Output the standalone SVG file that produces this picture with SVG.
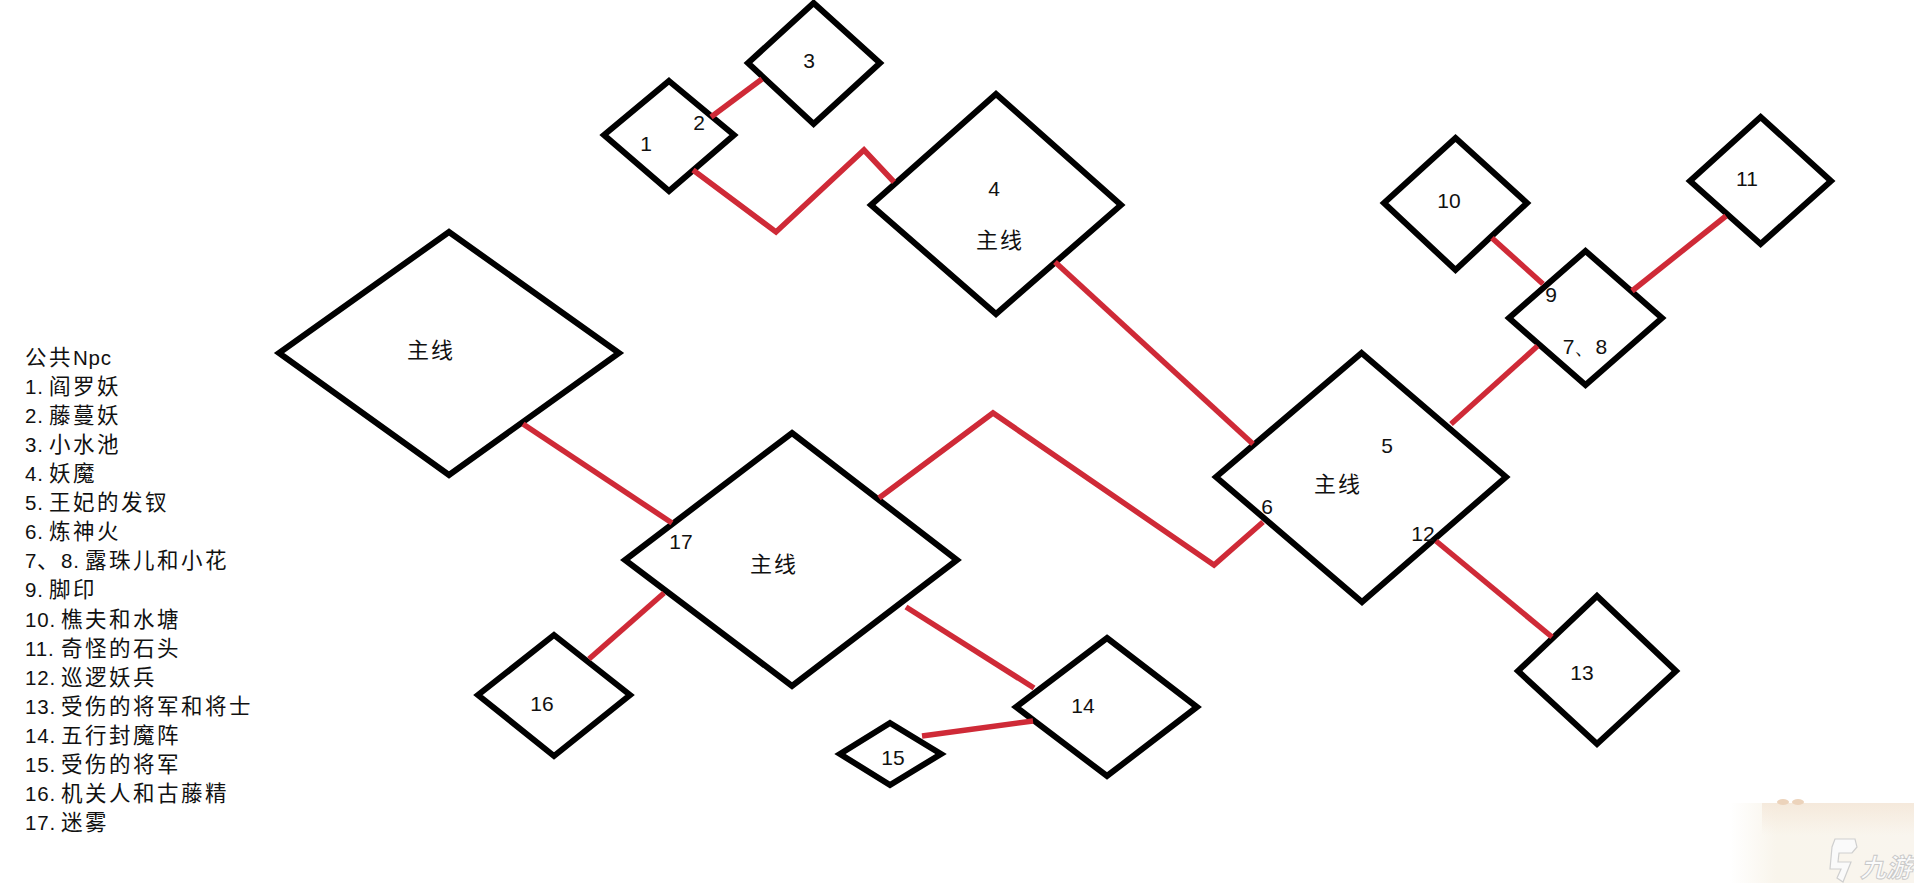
<svg xmlns="http://www.w3.org/2000/svg" width="1914" height="883" viewBox="0 0 1914 883">
<style>
.d{fill:none;stroke:#000;stroke-width:6;stroke-linejoin:miter;stroke-miterlimit:10}
.c{fill:none;stroke:#cf2a37;stroke-width:5.5;stroke-linejoin:miter;stroke-miterlimit:10}
text{fill:#111}
.n{font-family:"Liberation Sans",Arial,sans-serif;font-size:21px;text-anchor:middle}
.z{font-family:"Noto Sans CJK SC",sans-serif;font-size:22px;letter-spacing:2px;text-anchor:middle}
.l{font-family:"Liberation Sans",Arial,sans-serif;font-size:20.5px;letter-spacing:.8px}
.h{font-family:"Noto Sans CJK SC",sans-serif;font-size:21.5px;letter-spacing:2.5px}
</style>
<defs>
<linearGradient id="wm" x1="0" y1="0" x2="1" y2="0"><stop offset="0" stop-color="#fff"/><stop offset=".25" stop-color="#f9f5ec"/><stop offset="1" stop-color="#f9f5ee"/></linearGradient>
<linearGradient id="wt" x1="0" y1="0" x2="0" y2="1"><stop offset="0" stop-color="#f3e4d4" stop-opacity=".7"/><stop offset="1" stop-color="#f3e4d4" stop-opacity="0"/></linearGradient>
</defs>
<rect width="1914" height="883" fill="#fff"/>
<g id="watermark">
<rect x="1730" y="803" width="184" height="80" fill="url(#wm)"/>
<rect x="1762" y="803" width="152" height="32" fill="url(#wt)"/>
<ellipse cx="1783" cy="802" rx="6" ry="3" fill="#ecd3bb"/>
<ellipse cx="1798" cy="802" rx="6" ry="3" fill="#ecd3bb"/>
<path d="M1835 839h20l2 8-5 6h-13l-1 9h13l-8 20-6-4 4-9h-11l2-22z" fill="#fafafa" stroke="#cfcfcf" stroke-width="1.2"/>
<text x="1860" y="877" font-family="Noto Sans CJK SC,sans-serif" font-size="26" font-style="italic" font-weight="700" style="fill:#fbfbfb;stroke:#c8c8c8;stroke-width:.9">九游</text>
</g>
<g id="legend">
<text class="h" x="25" y="365">公共</text><text class="l" x="73" y="365">Npc</text>
<text class="l" x="25" y="394">1.</text><text class="h" x="49" y="394">阎罗妖</text>
<text class="l" x="25" y="423">2.</text><text class="h" x="49" y="423">藤蔓妖</text>
<text class="l" x="25" y="452">3.</text><text class="h" x="49" y="452">小水池</text>
<text class="l" x="25" y="481">4.</text><text class="h" x="49" y="481">妖魔</text>
<text class="l" x="25" y="510">5.</text><text class="h" x="49" y="510">王妃的发钗</text>
<text class="l" x="25" y="539">6.</text><text class="h" x="49" y="539">炼神火</text>
<text class="l" x="25" y="568">7</text><text class="h" x="37" y="568">、</text><text class="l" x="61" y="568">8.</text><text class="h" x="85" y="568">露珠儿和小花</text>
<text class="l" x="25" y="597">9.</text><text class="h" x="49" y="597">脚印</text>
<text class="l" x="25" y="627">10.</text><text class="h" x="61" y="627">樵夫和水塘</text>
<text class="l" x="25" y="656">11.</text><text class="h" x="61" y="656">奇怪的石头</text>
<text class="l" x="25" y="685">12.</text><text class="h" x="61" y="685">巡逻妖兵</text>
<text class="l" x="25" y="714">13.</text><text class="h" x="61" y="714">受伤的将军和将士</text>
<text class="l" x="25" y="743">14.</text><text class="h" x="61" y="743">五行封魔阵</text>
<text class="l" x="25" y="772">15.</text><text class="h" x="61" y="772">受伤的将军</text>
<text class="l" x="25" y="801">16.</text><text class="h" x="61" y="801">机关人和古藤精</text>
<text class="l" x="25" y="830">17.</text><text class="h" x="61" y="830">迷雾</text>
</g>
<g id="node-1"><polygon class="d" points="669,81 734,135 669,191 604,135"/><text class="n" x="646" y="151">1</text></g>
<g id="node-2"><text class="n" x="699" y="130">2</text></g>
<g id="node-3"><polygon class="d" points="813.6,3 880,63 813.6,124 748,63"/><text class="n" x="809" y="68">3</text></g>
<g id="node-4"><polygon class="d" points="996,94 1121,205 996,314 871,205"/><text class="n" x="994" y="196">4</text><text class="z" x="1000" y="248">主线</text></g>
<g id="node-5"><polygon class="d" points="1361.6,353 1506,477 1362,602 1216,477"/><text class="n" x="1387" y="453">5</text><text class="z" x="1338" y="492">主线</text></g>
<g id="node-6"><text class="n" x="1267" y="514">6</text></g>
<g id="node-78"><polygon class="d" points="1585.5,251 1662,318 1585.5,385 1509,318"/><text class="n" x="1585" y="354">7、8</text></g>
<g id="node-9"><text class="n" x="1551" y="302">9</text></g>
<g id="node-10"><polygon class="d" points="1455.5,138 1527,203 1455.5,270 1384,203"/><text class="n" x="1449" y="208">10</text></g>
<g id="node-11"><polygon class="d" points="1760.6,117 1831,181 1760.6,244 1690,181"/><text class="n" x="1747" y="186">11</text></g>
<g id="node-12"><text class="n" x="1423" y="541">12</text></g>
<g id="node-13"><polygon class="d" points="1597,596 1676,671 1597,744 1518,671"/><text class="n" x="1582" y="680">13</text></g>
<g id="node-14"><polygon class="d" points="1107,638 1197,707 1107,776 1016,707"/><text class="n" x="1083" y="713">14</text></g>
<g id="node-15"><polygon class="d" points="890,723 941,754 890,785 840,754"/><text class="n" x="893" y="765">15</text></g>
<g id="node-16"><polygon class="d" points="554,635 630,695 554,756 478,695"/><text class="n" x="542" y="711">16</text></g>
<g id="node-17"><polygon class="d" points="792,433 957,560 792,686 625,560"/><text class="n" x="681" y="549">17</text><text class="z" x="774" y="572">主线</text></g>
<g id="node-main"><polygon class="d" points="449,232 619,353 449,475 279,353"/><text class="z" x="431" y="358">主线</text></g>
<g id="connectors">
<path class="c" d="M711,117L762,79"/>
<path class="c" d="M693,170L776,232L864,150L894,182"/>
<path class="c" d="M1055,262L1253,444"/>
<path class="c" d="M1492,238L1543,284"/>
<path class="c" d="M1726,216L1632,291"/>
<path class="c" d="M1537.5,346L1451,424"/>
<path class="c" d="M523,424L672,523"/>
<path class="c" d="M879,498L993,413L1214,565L1263,522"/>
<path class="c" d="M906,607L1034,688"/>
<path class="c" d="M922,736L1033,721"/>
<path class="c" d="M589,659L664,593"/>
<path class="c" d="M1436,541L1552,637"/>
</g>
</svg>
